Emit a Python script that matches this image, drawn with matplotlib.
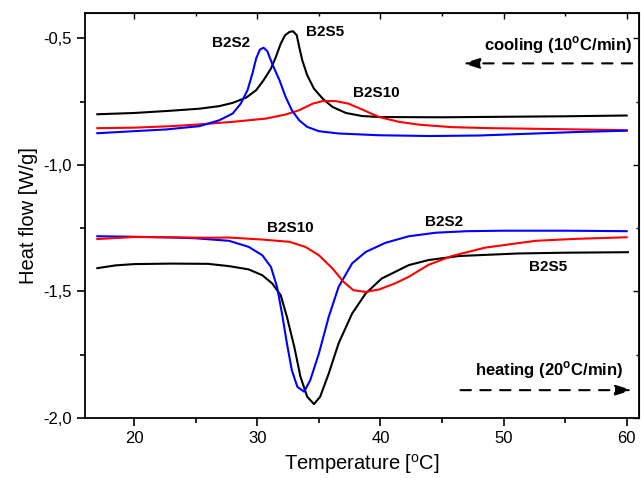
import matplotlib
matplotlib.use('Agg')
import matplotlib.pyplot as plt
from matplotlib.ticker import MultipleLocator, FuncFormatter

plt.rcParams['font.family'] = ['Liberation Sans', 'DejaVu Sans']
plt.rcParams['mathtext.fontset'] = 'custom'
plt.rcParams['mathtext.rm'] = 'Liberation Sans'
plt.rcParams['mathtext.bf'] = 'Liberation Sans:bold'

# cooling curves (10 C/min)
b2s5_cool_t = [17, 20, 23, 25.3, 26.9, 28.0, 29.1, 29.9, 30.5, 31.1, 31.5, 31.9, 32.25, 32.6,
               32.9, 33.2, 33.4, 33.65, 34.05, 34.6, 35.3, 36.1, 37.2, 38.5, 39.9, 45, 50, 55, 60]
b2s5_cool_q = [-0.800, -0.795, -0.786, -0.778, -0.768, -0.755, -0.734, -0.705, -0.666, -0.620,
               -0.574, -0.521, -0.488, -0.475, -0.472, -0.488, -0.534, -0.587, -0.646, -0.699,
               -0.738, -0.771, -0.795, -0.807, -0.811, -0.812, -0.810, -0.808, -0.805]

b2s2_cool_t = [17, 19.9, 22.6, 25.3, 26.9, 28.0, 28.65, 29.2, 29.6, 29.9, 30.2, 30.5, 30.8,
               31.2, 31.8, 32.3, 32.8, 33.4, 34.05, 35.0, 36.6, 39.9, 44, 48, 52, 56, 60]
b2s2_cool_q = [-0.875, -0.867, -0.860, -0.847, -0.824, -0.797, -0.758, -0.705, -0.639, -0.580,
               -0.545, -0.537, -0.550, -0.600, -0.666, -0.732, -0.784, -0.824, -0.850, -0.867,
               -0.876, -0.883, -0.886, -0.884, -0.877, -0.870, -0.865]

b2s10_cool_t = [17, 20, 23, 25.3, 28.0, 30.7, 32.3, 33.4, 34.5, 35.3, 36.35, 37.4, 38.5,
                39.9, 41.5, 43.1, 45.8, 49, 52, 56, 60]
b2s10_cool_q = [-0.855, -0.853, -0.847, -0.840, -0.830, -0.817, -0.801, -0.784, -0.758,
                -0.748, -0.748, -0.758, -0.781, -0.811, -0.830, -0.841, -0.851, -0.855,
                -0.857, -0.860, -0.863]

# heating curves (20 C/min)
b2s2_heat_t = [17, 20, 23, 25, 26.6, 27.7, 29.3, 30.4, 31.1, 31.6, 32.0, 32.4, 32.8, 33.25,
               33.8, 34.3, 35.0, 35.8, 36.6, 37.7, 38.8, 40.4, 42.3, 44.5, 47, 50, 55, 60]
b2s2_heat_q = [-1.282, -1.284, -1.287, -1.290, -1.296, -1.300, -1.324, -1.357, -1.403, -1.482,
               -1.587, -1.705, -1.811, -1.877, -1.896, -1.850, -1.745, -1.600, -1.482, -1.389,
               -1.344, -1.308, -1.282, -1.268, -1.262, -1.260, -1.260, -1.262]

b2s5_heat_t = [17, 18.5, 20, 23, 26, 27.7, 29.3, 30.4, 31.2, 31.9, 32.4, 33.0, 33.5, 34.05,
               34.6, 35.1, 35.8, 36.6, 37.7, 38.8, 40.1, 42.3, 43.9, 46.4, 51.2, 55, 60.1]
b2s5_heat_q = [-1.408, -1.397, -1.392, -1.390, -1.391, -1.400, -1.413, -1.436, -1.468, -1.515,
               -1.600, -1.719, -1.837, -1.916, -1.945, -1.916, -1.824, -1.705, -1.587, -1.508,
               -1.449, -1.396, -1.376, -1.360, -1.350, -1.347, -1.345]

b2s10_heat_t = [17, 20, 23, 26, 27.7, 30.4, 32.6, 33.9, 35.0, 36.1, 37.0, 37.8, 38.8, 39.9,
                41.2, 42.3, 43.9, 45.8, 48.5, 52.6, 56, 60]
b2s10_heat_q = [-1.293, -1.285, -1.286, -1.288, -1.287, -1.295, -1.304, -1.324, -1.357, -1.409,
                -1.462, -1.495, -1.502, -1.492, -1.468, -1.442, -1.395, -1.360, -1.327, -1.300,
                -1.292, -1.286]

fig = plt.figure(figsize=(6.41, 4.78), dpi=100)
ax = fig.add_axes([85 / 641, 1 - 418 / 478, 554 / 641, 405 / 478])

lw = 1.5
ax.plot(b2s5_cool_t, b2s5_cool_q, color='black', lw=lw)
ax.plot(b2s10_cool_t, b2s10_cool_q, color='#ff0000', lw=lw)
ax.plot(b2s2_cool_t, b2s2_cool_q, color='#0000ff', lw=lw)
ax.plot(b2s5_heat_t, b2s5_heat_q, color='black', lw=lw)
ax.plot(b2s2_heat_t, b2s2_heat_q, color='#0000ff', lw=lw)
ax.plot(b2s10_heat_t, b2s10_heat_q, color='#ff0000', lw=lw)

ax.set_xlim(16, 61)
ax.set_ylim(-2.0, -0.4)
ax.xaxis.set_major_locator(MultipleLocator(10))
ax.xaxis.set_minor_locator(MultipleLocator(5))
ax.yaxis.set_major_locator(MultipleLocator(0.5))
ax.yaxis.set_minor_locator(MultipleLocator(0.25))
ax.yaxis.set_major_formatter(FuncFormatter(lambda v, p: f'{v:.1f}'.replace('.', ',')))
ax.tick_params(which='both', direction='out', labelsize=12, width=1.2)
ax.tick_params(which='major', length=6)
ax.tick_params(which='minor', length=3.5)
for s in ax.spines.values():
    s.set_linewidth(1.3)

# inward ticks on the top and right frame
top = ax.secondary_xaxis('top')
top.xaxis.set_major_locator(MultipleLocator(10))
top.xaxis.set_minor_locator(MultipleLocator(5))
top.tick_params(which='both', direction='in', labeltop=False, width=1.0)
top.tick_params(which='major', length=4)
top.tick_params(which='minor', length=2.5)
right = ax.secondary_yaxis('right')
right.yaxis.set_major_locator(MultipleLocator(0.5))
right.yaxis.set_minor_locator(MultipleLocator(0.25))
right.tick_params(which='both', direction='in', labelright=False, width=1.0)
right.tick_params(which='major', length=4)
right.tick_params(which='minor', length=2.5)

ax.set_xlabel(r'Temperature [$^{\rm o}$C]', fontsize=14.5)
ax.set_ylabel('Heat flow [W/g]', fontsize=14.5)

bold = dict(fontsize=11, fontweight='bold', ha='center', va='center')
ax.text(27.9, -0.52, 'B2S2', **bold)
ax.text(35.5, -0.476, 'B2S5', **bold)
ax.text(39.7, -0.717, 'B2S10', **bold)
ax.text(32.65, -1.25, 'B2S10', **bold)
ax.text(45.2, -1.226, 'B2S2', **bold)
ax.text(53.65, -1.404, 'B2S5', **bold)

ax.text(60.5, -0.528, r'cooling (10$^{\mathbf{o}}$C/min)', fontsize=12, fontweight='bold',
        ha='right', va='center')
ax.text(59.7, -1.81, r'heating (20$^{\mathbf{o}}$C/min)', fontsize=12, fontweight='bold',
        ha='right', va='center')

arrow = dict(arrowstyle='-|>,head_length=0.9,head_width=0.28', color='black', lw=1.5,
             linestyle=(0, (5, 4.5)), mutation_scale=11, shrinkA=0, shrinkB=0)
ax.annotate('', xy=(46.7, -0.599), xytext=(60.45, -0.599), arrowprops=arrow)
ax.annotate('', xy=(60.45, -1.89), xytext=(46.5, -1.89), arrowprops=arrow)

fig.savefig('out.png', dpi=100)
